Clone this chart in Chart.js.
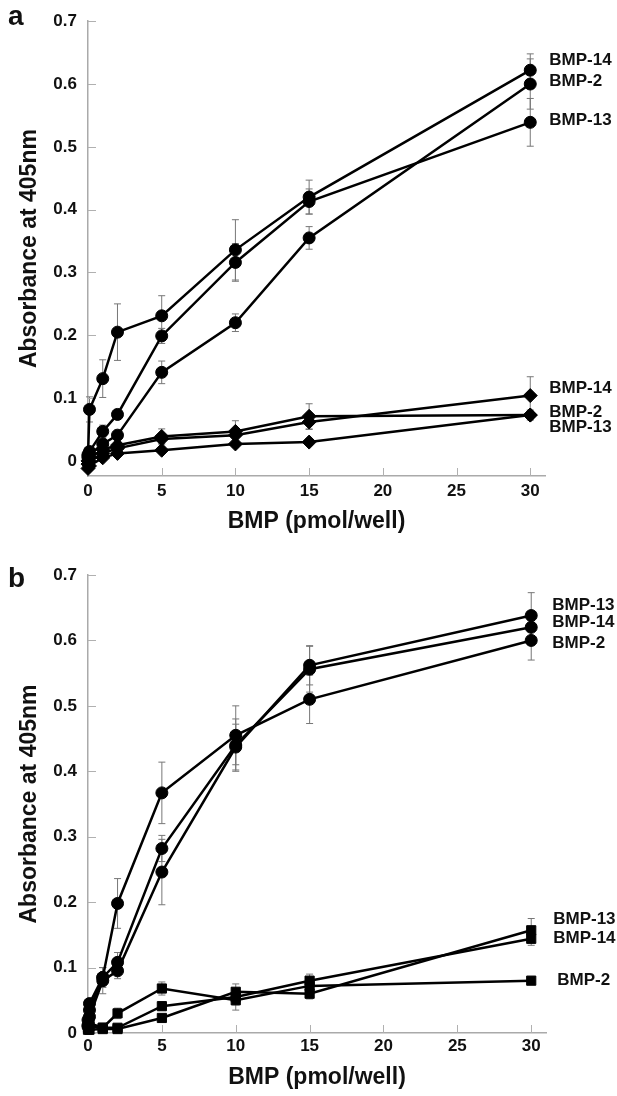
<!DOCTYPE html>
<html>
<head>
<meta charset="utf-8">
<script src="https://cdn.jsdelivr.net/npm/chart.js@4.4.1/dist/chart.umd.min.js"></script>
<style>
  html, body { margin: 0; padding: 0; background: #fff; }
  canvas { display: block; }
</style>
</head>
<body>
<canvas id="chartA" width="617" height="548"></canvas>
<canvas id="chartB" width="617" height="548"></canvas>
<script>
// ---- data ----
const doses = [0, 0.1, 1, 2, 5, 10, 15, 30];

const yTickValues = [0, 0.1, 0.2, 0.3, 0.4, 0.5, 0.6, 0.7];
const yTickLabels = ['0', '0.1', '0.2', '0.3', '0.4', '0.5', '0.6', '0.7'];
const xTickValues = [0, 5, 10, 15, 20, 25, 30];
const xTickLabels = ['0', '5', '10', '15', '20', '25', '30'];

// panel a, circles
const aCircle14 = [0.008, 0.082, 0.131, 0.205, 0.231, 0.336, 0.420, 0.622];
const aCircle14Err = [0.004, 0.02, 0.03, 0.045, 0.032, 0.048, 0.027, 0.026];
const aCircle2 = [0.005, 0.010, 0.027, 0.041, 0.141, 0.220, 0.355, 0.600];
const aCircle2Err = [0.004, 0.005, 0.008, 0.008, 0.018, 0.014, 0.018, 0.040];
const aCircle13 = [0.010, 0.015, 0.047, 0.074, 0.199, 0.316, 0.413, 0.539];
const aCircle13Err = [0.004, 0.006, 0.010, 0.008, 0.012, 0.030, 0.020, 0.038];
// panel a, diamonds
const aDiam14 = [-0.005, 0.000, 0.012, 0.020, 0.035, 0.041, 0.062, 0.104];
const aDiam14Err = [0.004, 0.004, 0.005, 0.005, 0.008, 0.010, 0.012, 0.030];
const aDiam2 = [0.000, 0.005, 0.018, 0.025, 0.039, 0.047, 0.071, 0.073];
const aDiam2Err = [0.004, 0.004, 0.006, 0.006, 0.012, 0.017, 0.020, 0.008];
const aDiam13 = [-0.012, -0.008, 0.005, 0.012, 0.017, 0.027, 0.030, 0.073];
const aDiam13Err = [0.003, 0.003, 0.004, 0.004, 0.005, 0.005, 0.005, 0.006];

// panel b, circles
const bCircle2 = [0.020, 0.045, 0.085, 0.198, 0.367, 0.455, 0.510, 0.600];
const bCircle2Err = [0.005, 0.005, 0.015, 0.038, 0.047, 0.045, 0.037, 0.030];
const bCircle14 = [0.012, 0.035, 0.085, 0.108, 0.282, 0.440, 0.556, 0.620];
const bCircle14Err = [0.004, 0.005, 0.015, 0.015, 0.020, 0.040, 0.035, 0.020];
const bCircle13 = [0.010, 0.025, 0.080, 0.095, 0.246, 0.437, 0.562, 0.638];
const bCircle13Err = [0.004, 0.005, 0.020, 0.012, 0.050, 0.035, 0.030, 0.035];
// panel b, squares
const bSquare2 = [0.012, 0.015, 0.008, 0.030, 0.068, 0.050, 0.072, 0.080];
const bSquare2Err = [0.004, 0.004, 0.004, 0.008, 0.010, 0.015, 0.010, 0.005];
const bSquare14 = [0.008, 0.010, 0.008, 0.008, 0.041, 0.055, 0.080, 0.144];
const bSquare14Err = [0.004, 0.004, 0.004, 0.004, 0.006, 0.012, 0.010, 0.010];
const bSquare13 = [0.005, 0.005, 0.006, 0.006, 0.023, 0.063, 0.060, 0.157];
const bSquare13Err = [0.004, 0.004, 0.004, 0.004, 0.005, 0.012, 0.008, 0.018];

// end-of-line labels (y given in data units)
const aLabelText = ['BMP-14', 'BMP-2', 'BMP-13', 'BMP-14', 'BMP-2', 'BMP-13'];
const aLabelY = [0.638, 0.605, 0.543, 0.115, 0.078, 0.053];
const bLabelText = ['BMP-13', 'BMP-14', 'BMP-2', 'BMP-13', 'BMP-14', 'BMP-2'];
const bLabelY = [0.654, 0.628, 0.596, 0.173, 0.145, 0.081];

Chart.defaults.font.family = "'Liberation Sans', Arial, sans-serif";
Chart.defaults.color = '#111';

function series(ys, errs, style, radius) {
  return {
    data: doses.map((x, i) => ({ x: x, y: ys[i] })),
    errors: errs,
    showLine: true,
    borderColor: '#000',
    borderWidth: 2.5,
    pointStyle: style,
    pointRadius: radius,
    pointBackgroundColor: '#000',
    pointBorderColor: '#000',
    pointBorderWidth: 1,
    clip: false
  };
}

// error bars, drawn under the lines
const errorBars = {
  id: 'errorBars',
  beforeDatasetsDraw(chart) {
    const ctx = chart.ctx, xs = chart.scales.x, ys = chart.scales.y;
    ctx.save();
    ctx.strokeStyle = '#777';
    ctx.lineWidth = 1;
    chart.data.datasets.forEach(ds => {
      ds.data.forEach((p, i) => {
        const e = ds.errors[i];
        const px = xs.getPixelForValue(p.x);
        const top = ys.getPixelForValue(p.y + e);
        const bot = ys.getPixelForValue(p.y - e);
        ctx.beginPath();
        ctx.moveTo(px, top); ctx.lineTo(px, bot);
        ctx.moveTo(px - 3.5, top); ctx.lineTo(px + 3.5, top);
        ctx.moveTo(px - 3.5, bot); ctx.lineTo(px + 3.5, bot);
        ctx.stroke();
      });
    });
    ctx.restore();
  }
};

// inward tick marks
const innerTicks = {
  id: 'innerTicks',
  beforeDatasetsDraw(chart) {
    const ctx = chart.ctx, a = chart.chartArea;
    ctx.save();
    ctx.strokeStyle = '#b0b0b0';
    ctx.lineWidth = 1;
    ctx.beginPath();
    chart.scales.y.ticks.forEach(t => {
      const py = Math.round(chart.scales.y.getPixelForValue(t.value)) + 0.5;
      ctx.moveTo(a.left, py); ctx.lineTo(a.left + 8, py);
    });
    chart.scales.x.ticks.forEach(t => {
      const px = Math.round(chart.scales.x.getPixelForValue(t.value)) + 0.5;
      ctx.moveTo(px, a.bottom); ctx.lineTo(px, a.bottom - 8);
    });
    ctx.stroke();
    ctx.restore();
  }
};

// series names at the right end + panel letter
const sideText = {
  id: 'sideText',
  afterDraw(chart, args, opts) {
    const ctx = chart.ctx;
    const x30 = chart.scales.x.getPixelForValue(30);
    ctx.save();
    ctx.fillStyle = '#111';
    ctx.font = "bold 17px 'Liberation Sans', Arial, sans-serif";
    ctx.textBaseline = 'middle';
    ctx.textAlign = 'left';
    opts.text.forEach((t, i) => {
      ctx.fillText(t, x30 + opts.dx[i], chart.scales.y.getPixelForValue(opts.y[i]));
    });
    ctx.font = "bold 28px 'Liberation Sans', Arial, sans-serif";
    ctx.textBaseline = 'alphabetic';
    ctx.fillText(opts.letter, 8, opts.letterY);
    ctx.restore();
  }
};

function makeChart(id, datasets, yMin, padTop, padRight, xHeight, titlePad, labelPad, side) {
  return new Chart(document.getElementById(id), {
    type: 'scatter',
    data: { datasets: datasets },
    plugins: [errorBars, innerTicks, sideText],
    options: {
      responsive: false,
      animation: false,
      layout: { padding: { top: padTop, right: padRight, left: 0, bottom: 0 } },
      plugins: {
        legend: { display: false },
        tooltip: { enabled: false },
        sideText: side
      },
      scales: {
        x: {
          type: 'linear',
          min: 0,
          max: 31,
          afterBuildTicks: s => { s.ticks = xTickValues.map(v => ({ value: v })); },
          afterFit: s => { s.height = xHeight; },
          ticks: {
            callback: (v, i) => xTickLabels[i],
            font: { size: 17, weight: 'bold' },
            padding: labelPad,
            maxRotation: 0
          },
          grid: { display: false, drawTicks: false },
          border: { display: true, color: '#aaa', width: 1.5 },
          title: {
            display: true,
            text: 'BMP (pmol/well)',
            font: { size: 23, weight: 'bold' },
            padding: { top: 0, bottom: titlePad }
          }
        },
        y: {
          type: 'linear',
          min: yMin,
          max: 0.7,
          afterBuildTicks: s => { s.ticks = yTickValues.map(v => ({ value: v })); },
          afterFit: s => { s.width = 88; },
          ticks: {
            callback: (v, i) => yTickLabels[i],
            font: { size: 17, weight: 'bold' },
            padding: 11
          },
          grid: { display: false, drawTicks: false },
          border: { display: true, color: '#aaa', width: 1.5 },
          title: {
            display: true,
            text: 'Absorbance at 405nm',
            font: { size: 23, weight: 'bold' },
            padding: { top: 16, bottom: 0 }
          }
        }
      }
    }
  });
}

makeChart('chartA', [
  series(aCircle14, aCircle14Err, 'circle', 6),
  series(aCircle2, aCircle2Err, 'circle', 6),
  series(aCircle13, aCircle13Err, 'circle', 6),
  series(aDiam14, aDiam14Err, 'rectRot', 7),
  series(aDiam2, aDiam2Err, 'rectRot', 7),
  series(aDiam13, aDiam13Err, 'rectRot', 7)
], -0.024, 18, 72, 72, 13, 5, {
  text: aLabelText, y: aLabelY, dx: [19, 19, 19, 19, 19, 19], letter: 'a', letterY: 25
});

makeChart('chartB', [
  series(bCircle13, bCircle13Err, 'circle', 6),
  series(bCircle14, bCircle14Err, 'circle', 6),
  series(bCircle2, bCircle2Err, 'circle', 6),
  series(bSquare13, bSquare13Err, 'rect', 6.5),
  series(bSquare14, bSquare14Err, 'rect', 6.5),
  series(bSquare2, bSquare2Err, 'rect', 6.5)
], 0, 27, 71, 63, 5, 3, {
  text: bLabelText, y: bLabelY, dx: [21, 21, 21, 22, 22, 26], letter: 'b', letterY: 39
});
</script>
</body>
</html>
